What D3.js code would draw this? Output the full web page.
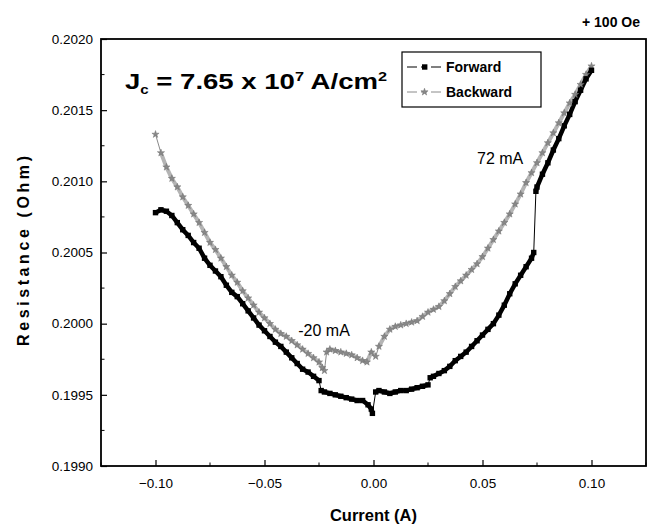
<!DOCTYPE html>
<html>
<head>
<meta charset="utf-8">
<script src="https://cdn.jsdelivr.net/npm/d3@7"></script>
<style>
body { margin: 0; background: #fff; }
text { font-family: Arial, "Liberation Sans", sans-serif; }
</style>
</head>
<body>
<div class="chart"></div>
<script>
var svgWidth = 654;
var svgHeight = 527;

var margin = { top: 39, right: 8, bottom: 61, left: 101 };
var width = svgWidth - margin.left - margin.right;
var height = svgHeight - margin.top - margin.bottom;

// forward sweep (black squares)
var forwardX = [-0.1000, -0.0975, -0.0950, -0.0925, -0.0900, -0.0875, -0.0850, -0.0825, -0.0800, -0.0775,
    -0.0750, -0.0725, -0.0700, -0.0675, -0.0650, -0.0625, -0.0600, -0.0575, -0.0550, -0.0525,
    -0.0500, -0.0475, -0.0450, -0.0425, -0.0400, -0.0375, -0.0350, -0.0325, -0.0300, -0.0275,
    -0.0250, -0.0240, -0.0225, -0.0200, -0.0175, -0.0150, -0.0125, -0.0100, -0.0075, -0.0050,
    -0.0025, -0.0010, -0.0005, 0.0010, 0.0025, 0.0050, 0.0075, 0.0100, 0.0125, 0.0150,
    0.0175, 0.0200, 0.0225, 0.0250, 0.0260, 0.0275, 0.0300, 0.0325, 0.0350, 0.0375,
    0.0400, 0.0425, 0.0450, 0.0475, 0.0500, 0.0525, 0.0550, 0.0575, 0.0600, 0.0625,
    0.0650, 0.0675, 0.0700, 0.0725, 0.0735, 0.0745, 0.0750, 0.0775, 0.0800, 0.0825,
    0.0850, 0.0875, 0.0900, 0.0925, 0.0950, 0.0975, 0.1000];
var forwardR = [0.20078, 0.20080, 0.20079, 0.20076, 0.20071, 0.20066, 0.20062, 0.20057, 0.20053, 0.20046,
    0.20041, 0.20037, 0.20033, 0.20027, 0.20022, 0.20019, 0.20014, 0.20009, 0.20004, 0.19999,
    0.19995, 0.19991, 0.19987, 0.19984, 0.19980, 0.19976, 0.19972, 0.19968, 0.19966, 0.19963,
    0.19960, 0.19953, 0.19952, 0.19951, 0.19950, 0.19949, 0.19948, 0.19947, 0.19946, 0.19946,
    0.19943, 0.19940, 0.19937, 0.19952, 0.19953, 0.19952, 0.19951, 0.19952, 0.19953, 0.19953,
    0.19954, 0.19955, 0.19956, 0.19957, 0.19962, 0.19963, 0.19965, 0.19967, 0.19970, 0.19974,
    0.19977, 0.19980, 0.19984, 0.19988, 0.19992, 0.19996, 0.20000, 0.20006, 0.20013, 0.20021,
    0.20028, 0.20034, 0.20040, 0.20046, 0.20050, 0.20093, 0.20096, 0.20105, 0.20113, 0.20122,
    0.20130, 0.20139, 0.20147, 0.20156, 0.20164, 0.20172, 0.20178];

// backward sweep (grey stars)
var backwardX = [-0.1000, -0.0975, -0.0950, -0.0925, -0.0900, -0.0875, -0.0850, -0.0825, -0.0800, -0.0775,
    -0.0750, -0.0725, -0.0700, -0.0675, -0.0650, -0.0625, -0.0600, -0.0575, -0.0550, -0.0525,
    -0.0500, -0.0475, -0.0450, -0.0425, -0.0400, -0.0375, -0.0350, -0.0325, -0.0300, -0.0275,
    -0.0250, -0.0235, -0.0225, -0.0215, -0.0200, -0.0175, -0.0150, -0.0125, -0.0100, -0.0075,
    -0.0050, -0.0030, -0.0010, 0.0010, 0.0025, 0.0050, 0.0075, 0.0100, 0.0125, 0.0150,
    0.0175, 0.0200, 0.0225, 0.0250, 0.0275, 0.0300, 0.0325, 0.0350, 0.0375, 0.0400,
    0.0425, 0.0450, 0.0475, 0.0500, 0.0525, 0.0550, 0.0575, 0.0600, 0.0625, 0.0650,
    0.0675, 0.0700, 0.0725, 0.0750, 0.0775, 0.0800, 0.0825, 0.0850, 0.0875, 0.0900,
    0.0925, 0.0950, 0.0975, 0.1000];
var backwardR = [0.20133, 0.20120, 0.20110, 0.20102, 0.20096, 0.20089, 0.20083, 0.20077, 0.20071, 0.20064,
    0.20057, 0.20052, 0.20046, 0.20040, 0.20034, 0.20029, 0.20023, 0.20018, 0.20013, 0.20008,
    0.20004, 0.20000, 0.19996, 0.19993, 0.19991, 0.19988, 0.19985, 0.19982, 0.19979, 0.19976,
    0.19973, 0.19969, 0.19967, 0.19980, 0.19982, 0.19981, 0.19980, 0.19979, 0.19978, 0.19976,
    0.19974, 0.19973, 0.19980, 0.19977, 0.19984, 0.19991, 0.19996, 0.19998, 0.19999, 0.20000,
    0.20001, 0.20002, 0.20005, 0.20008, 0.20010, 0.20012, 0.20016, 0.20021, 0.20026, 0.20030,
    0.20034, 0.20038, 0.20042, 0.20047, 0.20053, 0.20059, 0.20065, 0.20071, 0.20077, 0.20084,
    0.20091, 0.20099, 0.20106, 0.20113, 0.20120, 0.20127, 0.20134, 0.20141, 0.20148, 0.20155,
    0.20161, 0.20168, 0.20175, 0.20181];

var xTicks = [-0.10, -0.05, 0.00, 0.05, 0.10];
var yTicks = [0.1990, 0.1995, 0.2000, 0.2005, 0.2010, 0.2015, 0.2020];
var xMinorTicks = [-0.125, -0.075, -0.025, 0.025, 0.075, 0.125];
var yMinorTicks = [0.19925, 0.19975, 0.20025, 0.20075, 0.20125, 0.20175];

var forwardData = forwardX.map((x, i) => ({ x: x, r: forwardR[i] }));
var backwardData = backwardX.map((x, i) => ({ x: x, r: backwardR[i] }));

var svg = d3.select(".chart")
    .append("svg")
    .attr("width", svgWidth)
    .attr("height", svgHeight);

var chartGroup = svg.append("g")
    .attr("transform", `translate(${margin.left}, ${margin.top})`);

var xLinearScale = d3.scaleLinear().domain([-0.125, 0.125]).range([0, width]);
var yLinearScale = d3.scaleLinear().domain([0.1990, 0.2020]).range([height, 0]);

// axes, ticks drawn inward
var bottomAxis = d3.axisBottom(xLinearScale).tickValues(xTicks)
    .tickSize(-6).tickPadding(12).tickFormat(d3.format(".2f"));
var leftAxis = d3.axisLeft(yLinearScale).tickValues(yTicks)
    .tickSize(-6).tickPadding(8).tickFormat(d3.format(".4f"));

var xAxis = chartGroup.append("g")
    .attr("transform", `translate(0, ${height})`)
    .call(bottomAxis);
xAxis.append("g").selectAll("line")
    .data(xMinorTicks).enter().append("line")
    .attr("x1", d => xLinearScale(d)).attr("x2", d => xLinearScale(d))
    .attr("y1", 0).attr("y2", -3.5)
    .attr("stroke", "#000");

var yAxis = chartGroup.append("g").call(leftAxis);
yAxis.append("g").selectAll("line")
    .data(yMinorTicks).enter().append("line")
    .attr("y1", d => yLinearScale(d)).attr("y2", d => yLinearScale(d))
    .attr("x1", 0).attr("x2", 3.5)
    .attr("stroke", "#000");

chartGroup.selectAll(".domain").remove();
chartGroup.selectAll(".tick line").attr("stroke", "#000").attr("stroke-width", 1.2);
chartGroup.selectAll(".tick text")
    .attr("font-family", "Arial, 'Liberation Sans', sans-serif")
    .attr("font-size", "13.5px")
    .attr("fill", "#000");

// frame
chartGroup.append("rect")
    .attr("x", 0).attr("y", 0)
    .attr("width", width).attr("height", height)
    .attr("fill", "none")
    .attr("stroke", "#000")
    .attr("stroke-width", 1.8);

// split a series at its steep jumps: dense trace thick, jumps stay a thin line
function runs(data) {
    var out = [[data[0]]];
    for (var i = 1; i < data.length; i++) {
        var dx = Math.abs(xLinearScale(data[i].x) - xLinearScale(data[i - 1].x));
        var dy = Math.abs(yLinearScale(data[i].r) - yLinearScale(data[i - 1].r));
        if (dy > 6 && dy > 3 * dx) out.push([]);
        out[out.length - 1].push(data[i]);
    }
    return out;
}

var line = d3.line()
    .x(d => xLinearScale(d.x))
    .y(d => yLinearScale(d.r));

// thin connecting lines
chartGroup.append("path")
    .datum(backwardData)
    .attr("d", line)
    .attr("fill", "none")
    .attr("stroke", "#8a8a8a")
    .attr("stroke-width", 1);

chartGroup.append("path")
    .datum(forwardData)
    .attr("d", line)
    .attr("fill", "none")
    .attr("stroke", "#000")
    .attr("stroke-width", 1);

// thick traces
chartGroup.selectAll(".bwdTrace")
    .data(runs(backwardData))
    .enter()
    .append("path")
    .attr("class", "bwdTrace")
    .attr("d", line)
    .attr("fill", "none")
    .attr("stroke", "#b4b4b4")
    .attr("stroke-width", 4)
    .attr("stroke-linejoin", "round");

chartGroup.selectAll(".fwdTrace")
    .data(runs(forwardData))
    .enter()
    .append("path")
    .attr("class", "fwdTrace")
    .attr("d", line)
    .attr("fill", "none")
    .attr("stroke", "#000")
    .attr("stroke-width", 4.5);

// markers
var starPath = d3.symbol().type(d3.symbolStar).size(16);

chartGroup.selectAll(".bwd")
    .data(backwardData)
    .enter()
    .append("path")
    .attr("class", "bwd")
    .attr("d", starPath)
    .attr("transform", d => `translate(${xLinearScale(d.x)}, ${yLinearScale(d.r)})`)
    .attr("fill", "#888")
    .attr("stroke", "#707070")
    .attr("stroke-width", 0.5);

chartGroup.selectAll(".fwd")
    .data(forwardData)
    .enter()
    .append("rect")
    .attr("class", "fwd")
    .attr("x", d => xLinearScale(d.x) - 2.7)
    .attr("y", d => yLinearScale(d.r) - 2.7)
    .attr("width", 5.4)
    .attr("height", 5.4)
    .attr("fill", "#000");

// annotations
chartGroup.append("text")
    .attr("x", xLinearScale(-0.0345))
    .attr("y", yLinearScale(0.19991))
    .attr("font-size", "16px")
    .text("-20 mA");

chartGroup.append("text")
    .attr("x", xLinearScale(0.0475))
    .attr("y", yLinearScale(0.20112))
    .attr("font-size", "16px")
    .text("72 mA");

var jc = chartGroup.append("text")
    .attr("x", 24)
    .attr("y", 50)
    .attr("font-family", "'DejaVu Sans', Verdana, sans-serif")
    .attr("font-weight", "bold")
    .attr("font-size", "22px")
    .attr("textLength", 262)
    .attr("lengthAdjust", "spacingAndGlyphs");
jc.append("tspan").text("J");
jc.append("tspan").attr("font-size", "12px").attr("dy", 5).text("c");
jc.append("tspan").attr("dy", -5).text(" = 7.65 x 10");
jc.append("tspan").attr("font-size", "13px").attr("dy", -8).text("7");
jc.append("tspan").attr("dy", 8).text(" A/cm");
jc.append("tspan").attr("font-size", "13px").attr("dy", -8).text("2");

// legend
var legend = chartGroup.append("g").attr("transform", "translate(301, 13)");
legend.append("rect")
    .attr("width", 139).attr("height", 55)
    .attr("fill", "#fff").attr("stroke", "#000").attr("stroke-width", 1.2);

legend.append("line").attr("x1", 5).attr("x2", 39).attr("y1", 15).attr("y2", 15)
    .attr("stroke", "#000").attr("stroke-width", 1).attr("stroke-dasharray", "10,4,6,4,10");
legend.append("rect").attr("x", 20).attr("y", 12.3).attr("width", 5.4).attr("height", 5.4).attr("fill", "#000");
legend.append("text").attr("x", 44).attr("y", 20)
    .attr("font-size", "14px").attr("font-weight", "bold").text("Forward");

legend.append("line").attr("x1", 5).attr("x2", 39).attr("y1", 40).attr("y2", 40)
    .attr("stroke", "#8a8a8a").attr("stroke-width", 1).attr("stroke-dasharray", "10,4,6,4,10");
legend.append("path").attr("d", starPath)
    .attr("transform", "translate(22.5, 40)")
    .attr("fill", "#888").attr("stroke", "#707070").attr("stroke-width", 0.5);
legend.append("text").attr("x", 44).attr("y", 45)
    .attr("font-size", "14px").attr("font-weight", "bold").text("Backward");

// axis titles
svg.append("text")
    .attr("x", margin.left + xLinearScale(0))
    .attr("y", 521)
    .attr("text-anchor", "middle")
    .attr("font-size", "16.5px")
    .attr("font-weight", "bold")
    .text("Current (A)");

svg.append("text")
    .attr("transform", "translate(29, 251) rotate(-90)")
    .attr("text-anchor", "middle")
    .attr("font-size", "16px")
    .attr("font-weight", "bold")
    .attr("textLength", 190)
    .attr("lengthAdjust", "spacing")
    .text("Resistance (Ohm)");

svg.append("text")
    .attr("x", 640)
    .attr("y", 27)
    .attr("text-anchor", "end")
    .attr("font-size", "14px")
    .attr("font-weight", "bold")
    .text("+ 100 Oe");
</script>
</body>
</html>
